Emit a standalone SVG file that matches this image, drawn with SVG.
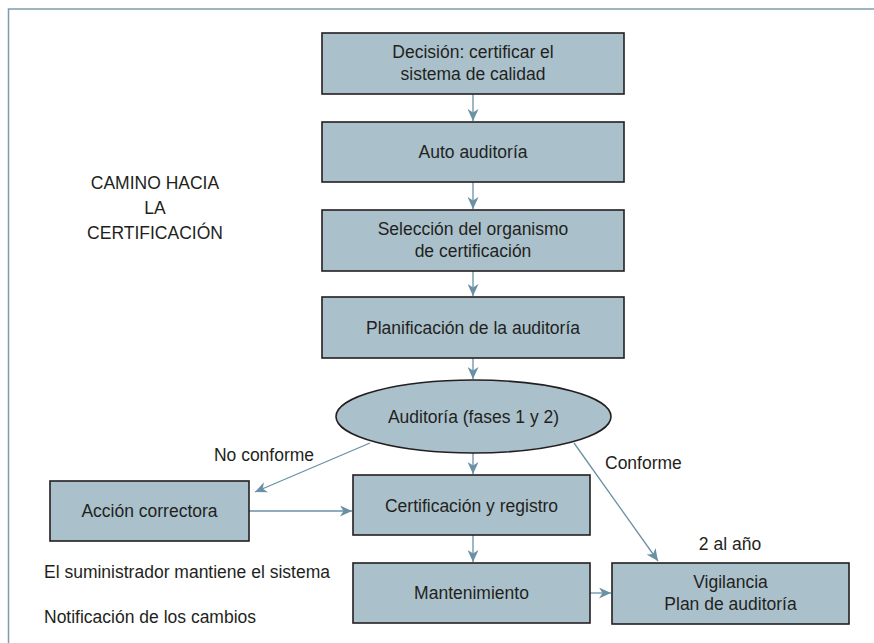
<svg xmlns="http://www.w3.org/2000/svg" width="874" height="643" viewBox="0 0 874 643">
<style>
text{font-family:"Liberation Sans",Arial,sans-serif;font-size:17.5px;fill:#231f20}
.c{text-anchor:middle}
.box{fill:#aac1cc;stroke:#231f20;stroke-width:1.6}
.frame{fill:none;stroke:#7d9cad;stroke-width:1.5}
.conn path{fill:none;stroke:#6a91a3;stroke-width:1.3;marker-end:url(#ah)}
</style>
<defs>
<marker id="ah" markerUnits="userSpaceOnUse" markerWidth="13" markerHeight="11" viewBox="0 0 13 11" refX="12" refY="5.5" orient="auto">
<path d="M0,0 L12,5.5 L0,11 L3.5,5.5 z" fill="#6a91a3"/>
</marker>
</defs>
<rect width="874" height="643" fill="#ffffff"/>
<path class="frame" d="M874,9 H8.5 V643"/>
<g id="title">
<text class="c" x="155" y="189">CAMINO HACIA</text>
<text class="c" x="155" y="214">LA</text>
<text class="c" x="155" y="239">CERTIFICACIÓN</text>
</g>
<g class="conn" id="connectors">
<path d="M473,94 V121"/>
<path d="M473,182 V209"/>
<path d="M473,271 V296"/>
<path d="M473,358 V379"/>
<path d="M473,453 V474"/>
<path d="M473,535 V562"/>
<path d="M370,443 L255,492"/>
<path d="M574,443 L658,561"/>
<path d="M249,511 H352"/>
<path d="M590,593 H611"/>
</g>
<g id="n1"><rect class="box" x="322" y="33" width="302" height="61"/>
<text class="c" x="473" y="58">Decisión: certificar el</text>
<text class="c" x="473" y="80">sistema de calidad</text></g>
<g id="n2"><rect class="box" x="322" y="122" width="302" height="60"/>
<text class="c" x="473" y="157.5">Auto auditoría</text></g>
<g id="n3"><rect class="box" x="322" y="210" width="302" height="61"/>
<text class="c" x="473" y="235">Selección del organismo</text>
<text class="c" x="473" y="257">de certificación</text></g>
<g id="n4"><rect class="box" x="322" y="297" width="302" height="61"/>
<text class="c" x="473" y="333.5">Planificación de la auditoría</text></g>
<g id="n5"><ellipse class="box" cx="473.5" cy="416.5" rx="137.5" ry="36.5"/>
<text class="c" x="473.5" y="422.5">Auditoría (fases 1 y 2)</text></g>
<g id="n6"><rect class="box" x="50" y="481" width="199" height="60"/>
<text class="c" x="149.5" y="517">Acción correctora</text></g>
<g id="n7"><rect class="box" x="353" y="475" width="237" height="60"/>
<text class="c" x="471.5" y="511.5">Certificación y registro</text></g>
<g id="n8"><rect class="box" x="353" y="563" width="237" height="60"/>
<text class="c" x="471.5" y="599">Mantenimiento</text></g>
<g id="n9"><rect class="box" x="612" y="563" width="237" height="61"/>
<text class="c" x="730.5" y="588">Vigilancia</text>
<text class="c" x="730.5" y="610">Plan de auditoría</text></g>
<g id="labels">
<text class="c" x="264" y="461">No conforme</text>
<text x="605" y="469">Conforme</text>
<text class="c" x="730" y="550">2 al año</text>
<text x="44" y="578">El suministrador mantiene el sistema</text>
<text x="44" y="622.5">Notificación de los cambios</text>
</g>
</svg>
